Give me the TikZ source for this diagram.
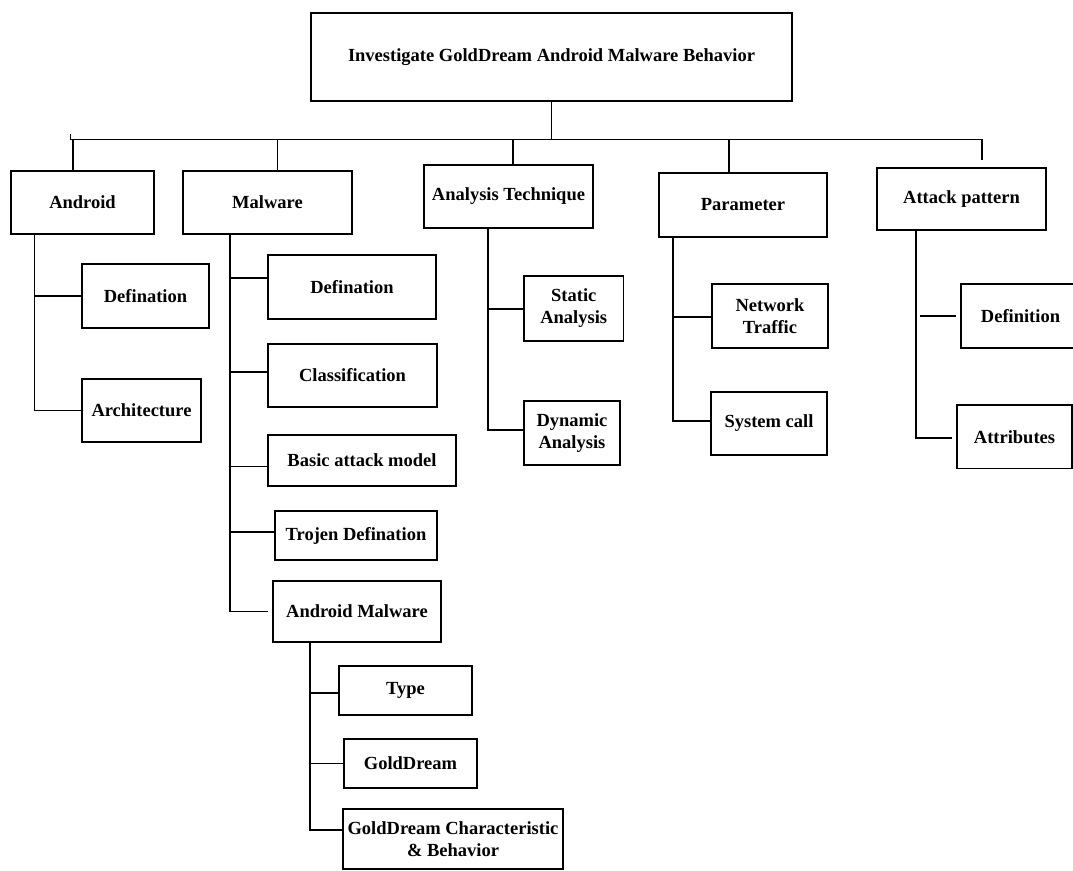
\documentclass[tikz,border=0pt]{standalone}
\usepackage{fontspec}
\setmainfont{Liberation Serif}
\begin{document}
\begin{tikzpicture}[x=1pt,y=-1pt,
  box/.style={draw, line width=1.6pt, inner sep=0pt, align=center,
    font=\fontsize{18.5}{22}\selectfont\bfseries},
  ln/.style={line width=1.6pt}]
\useasboundingbox (0,0) rectangle (1073,870);
% level 0
\node[box, minimum width=481, minimum height=88] (top) at (551.5,57) {Investigate GoldDream Android Malware Behavior};
% level 1
\node[box, minimum width=143, minimum height=63] (android) at (82.5,202.5) {Android};
\node[box, minimum width=169, minimum height=63] (malware) at (267.5,202.5) {Malware};
\node[box, minimum width=169, minimum height=63] (analysis) at (508.5,196.5) {Analysis Technique};
\node[box, minimum width=168, minimum height=64] (param) at (743,205) {Parameter};
\node[box, minimum width=169, minimum height=62] (attack) at (961.5,199) {Attack pattern};
% android children
\node[box, minimum width=127, minimum height=64] (anddef) at (145.5,296) {Defination};
\node[box, minimum width=119, minimum height=63] (arch) at (141.5,410.5) {Architecture};
% malware children
\node[box, minimum width=168, minimum height=63.5] (maldef) at (352,287) {Defination};
\node[box, minimum width=169, minimum height=63] (class) at (352.5,375.5) {Classification};
\node[box, minimum width=188, minimum height=51] (basic) at (362,460.5) {Basic attack model};
\node[box, minimum width=162, minimum height=49] (trojen) at (356,535.5) {Trojen Defination};
\node[box, minimum width=168, minimum height=61] (andmal) at (357,611.5) {Android Malware};
% android malware children
\node[box, minimum width=133, minimum height=49] (type) at (405.5,690.5) {Type};
\node[box, minimum width=133, minimum height=49] (gold) at (410.5,763.5) {GoldDream};
\node[box, minimum width=220, minimum height=60] (gchar) at (453,839) {GoldDream Characteristic\\\& Behavior};
% analysis children
\node[box, minimum width=99.5, minimum height=65] (static) at (573.75,308.5) {Static\\Analysis};
\node[box, minimum width=96, minimum height=64] (dynamic) at (572,433) {Dynamic\\Analysis};
% parameter children
\node[box, minimum width=116, minimum height=64] (network) at (770,316) {Network\\Traffic};
\node[box, minimum width=116, minimum height=63] (syscall) at (769,423.5) {System call};
% attack children
\node[box, minimum width=119, minimum height=64] (def2) at (1020.5,316) {Definition};
\node[box, minimum width=115, minimum height=63.5] (attr) at (1014.5,436.75) {Attributes};

% bus
\coordinate (busL) at (70.6,139.5);
\coordinate (busR) at (982,139.5);
\coordinate (atkEnd) at (982,160);
\draw[ln] (top.south) -- (top.south |- busL);
\draw[ln] (busL) ++(0,-5.5) -- (busL) -- (busR) -- (atkEnd);
% stems to level 1
\coordinate (sA) at (73,139.5);
\coordinate (sM) at (277.5,139.5);
\coordinate (sT) at (513,139.5);
\coordinate (sP) at (729,139.5);
\draw[ln] (sA) -- (sA |- android.north);
\draw[ln] (sM) -- (sM |- malware.north);
\draw[ln] (sT) -- (sT |- analysis.north);
\draw[ln] (sP) -- (sP |- param.north);

% android branch
\coordinate (vA) at (34.4,0);
\draw[ln] (vA |- android.south) -- (vA |- arch.west) -- (arch.west);
\draw[ln] (vA |- anddef.west) -- (anddef.west);

% malware branch
\coordinate (vM) at (230,0);
\coordinate (amEnd) at (268,611.5);
\draw[ln] (vM |- malware.south) -- (vM |- andmal.west) -- (amEnd);
\draw[ln] (vM |- 0,278) -- (maldef.west |- 0,278);
\draw[ln] (vM |- 0,372) -- (class.west |- 0,372);
\draw[ln] (vM |- 0,466.6) -- (basic.west |- 0,466.6);
\draw[ln] (vM |- 0,532) -- (trojen.west |- 0,532);

% android malware branch
\coordinate (vAM) at (310,0);
\draw[ln] (vAM |- andmal.south) -- (vAM |- 0,830) -- (gchar.west |- 0,830);
\draw[ln] (vAM |- 0,693) -- (type.west |- 0,693);
\draw[ln] (vAM |- gold.west) -- (gold.west);

% analysis branch
\coordinate (vT) at (488,0);
\draw[ln] (vT |- analysis.south) -- (vT |- 0,430) -- (dynamic.west |- 0,430);
\draw[ln] (vT |- 0,309) -- (static.west |- 0,309);

% parameter branch
\coordinate (vP) at (673,0);
\draw[ln] (vP |- param.south) -- (vP |- 0,421) -- (syscall.west |- 0,421);
\draw[ln] (vP |- 0,317) -- (network.west |- 0,317);

% attack branch
\coordinate (vK) at (916,0);
\coordinate (k1a) at (919.5,316);
\coordinate (k1b) at (956,316);
\coordinate (k2b) at (952,438);
\draw[ln] (vK |- attack.south) -- (vK |- k2b) -- (k2b);
\draw[ln] (k1a) -- (k1b);
\end{tikzpicture}
\end{document}
